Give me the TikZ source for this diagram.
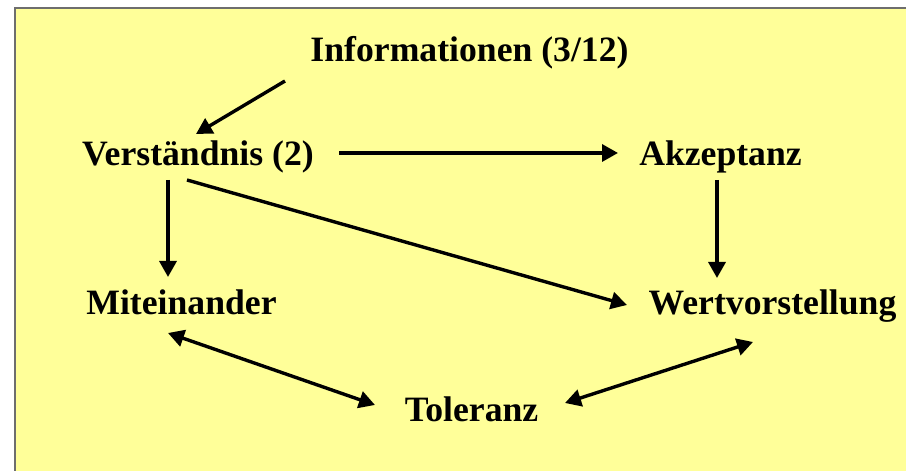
\documentclass[tikz,border=0pt]{standalone}
\usepackage{fontspec}
\setmainfont{Liberation Serif}
\usepackage{tikz}
\usetikzlibrary{arrows.meta}
\definecolor{boxyellow}{RGB}{255,255,153}
\definecolor{boxgray}{RGB}{110,110,110}

\begin{document}
\begin{tikzpicture}[x=0.5bp,y=0.5bp,
		lbl/.style={anchor=base,inner sep=0pt,font=\fontsize{17.9}{21}\selectfont\bfseries},
		conn/.style={line width=1.7bp,-{Triangle[length=8bp,width=8.5bp]}},
		bothconn/.style={line width=1.7bp,{Triangle[length=8bp,width=8.5bp]}-{Triangle[length=8bp,width=8.5bp]}}]
			\useasboundingbox (0,0) rectangle (906,471);
			\clip (0,0) rectangle (906,471);
			\draw[boxgray,fill=boxyellow,line width=0.6bp] (15,463) rectangle (915,-10);
			\node[lbl] (info) at (469.5,409) {Informationen (3/12)};
			\node[lbl] (verst) at (198,305) {Verständnis (2)};
			\node[lbl] (akz) at (720.5,305) {Akzeptanz};
			\node[lbl] (mit) at (181.5,156) {Miteinander};
			\node[lbl] (wert) at (772.5,156) {Wertvorstellung};
			\node[lbl] (tol) at (471.5,49) {Toleranz};
			\draw[conn] ([shift={(-184.5,-19)}]info.base) -- ([shift={(-2,32)}]verst.base);
			\draw[conn] ([shift={(141,13)}]verst.base) -- ([shift={(-102.5,13)}]akz.base);
			\draw[conn] ([shift={(-30,-14)}]verst.base) -- ([shift={(-13.5,38)}]mit.base);
			\draw[conn] ([shift={(-11,-14)}]verst.base) -- ([shift={(-145.5,10)}]wert.base);
			\draw[conn] ([shift={(-3.5,-14)}]akz.base) -- ([shift={(-55.5,37)}]wert.base);
			\draw[bothconn] ([shift={(-13.5,-18)}]mit.base) -- ([shift={(-96.5,17)}]tol.base);
			\draw[bothconn] ([shift={(93.5,19)}]tol.base) -- ([shift={(-19.5,-27)}]wert.base);
	\end{tikzpicture}
\end{document}
